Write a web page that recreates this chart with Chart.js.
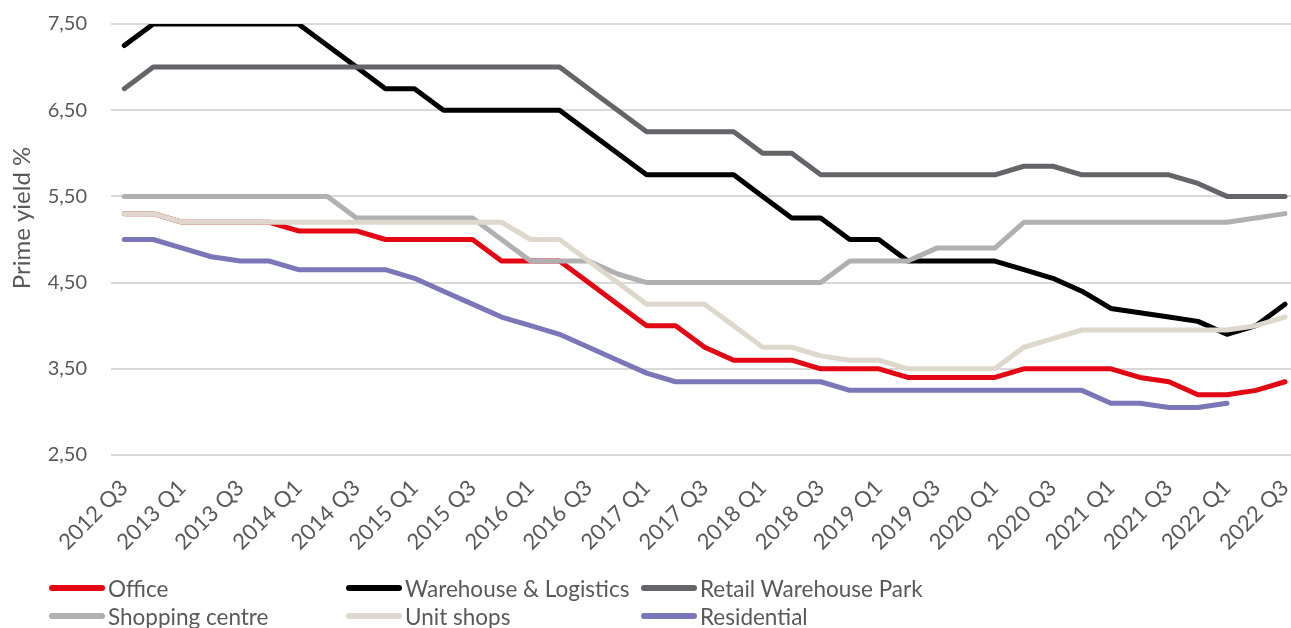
<!DOCTYPE html>
<html lang="en">
<head>
  <meta charset="UTF-8">
  <title>Prime yield</title>
  <style>
    body{margin:0;background:#fff;font-family:Lato,sans-serif;}
    #wrap{position:relative;width:1291px;height:628px;overflow:hidden;}
    #legend{position:absolute;left:0;top:0;width:1291px;height:628px;pointer-events:none;}
    .item{position:absolute;height:28px;display:flex;align-items:center;color:#595959;font-size:22.5px;white-space:nowrap;}
    .sw{width:56px;height:6px;border-radius:3px;margin-right:3px;}
  </style>
  <script src="https://cdn.jsdelivr.net/npm/chart.js"></script>
</head>
<body>
<div id="wrap">
  <canvas id="c" width="1291" height="628"></canvas>
  <div id="legend"></div>
</div>
<script>
// quarters 2012 Q3 .. 2022 Q3
const quarters = ['2012 Q3','2012 Q4','2013 Q1','2013 Q2','2013 Q3','2013 Q4','2014 Q1','2014 Q2','2014 Q3','2014 Q4',
  '2015 Q1','2015 Q2','2015 Q3','2015 Q4','2016 Q1','2016 Q2','2016 Q3','2016 Q4','2017 Q1','2017 Q2',
  '2017 Q3','2017 Q4','2018 Q1','2018 Q2','2018 Q3','2018 Q4','2019 Q1','2019 Q2','2019 Q3','2019 Q4',
  '2020 Q1','2020 Q2','2020 Q3','2020 Q4','2021 Q1','2021 Q2','2021 Q3','2021 Q4','2022 Q1','2022 Q2','2022 Q3'];

const office      = [5.3,5.3,5.2,5.2,5.2,5.2,5.1,5.1,5.1,5.0,5.0,5.0,5.0,4.75,4.75,4.75,4.5,4.25,4.0,4.0,
  3.75,3.6,3.6,3.6,3.5,3.5,3.5,3.4,3.4,3.4,3.4,3.5,3.5,3.5,3.5,3.4,3.35,3.2,3.2,3.25,3.35];
const warehouse   = [7.25,7.5,7.5,7.5,7.5,7.5,7.5,7.25,7.0,6.75,6.75,6.5,6.5,6.5,6.5,6.5,6.25,6.0,5.75,5.75,
  5.75,5.75,5.5,5.25,5.25,5.0,5.0,4.75,4.75,4.75,4.75,4.65,4.55,4.4,4.2,4.15,4.1,4.05,3.9,4.0,4.25];
const retailPark  = [6.75,7.0,7.0,7.0,7.0,7.0,7.0,7.0,7.0,7.0,7.0,7.0,7.0,7.0,7.0,7.0,6.75,6.5,6.25,6.25,
  6.25,6.25,6.0,6.0,5.75,5.75,5.75,5.75,5.75,5.75,5.75,5.85,5.85,5.75,5.75,5.75,5.75,5.65,5.5,5.5,5.5];
const shopping    = [5.5,5.5,5.5,5.5,5.5,5.5,5.5,5.5,5.25,5.25,5.25,5.25,5.25,5.0,4.75,4.75,4.75,4.6,4.5,4.5,
  4.5,4.5,4.5,4.5,4.5,4.75,4.75,4.75,4.9,4.9,4.9,5.2,5.2,5.2,5.2,5.2,5.2,5.2,5.2,5.25,5.3];
const unitShops   = [5.3,5.3,5.2,5.2,5.2,5.2,5.2,5.2,5.2,5.2,5.2,5.2,5.2,5.2,5.0,5.0,4.75,4.5,4.25,4.25,
  4.25,4.0,3.75,3.75,3.65,3.6,3.6,3.5,3.5,3.5,3.5,3.75,3.85,3.95,3.95,3.95,3.95,3.95,3.95,4.0,4.1];
const residential = [5.0,5.0,4.9,4.8,4.75,4.75,4.65,4.65,4.65,4.65,4.55,4.4,4.25,4.1,4.0,3.9,3.75,3.6,3.45,3.35,
  3.35,3.35,3.35,3.35,3.35,3.25,3.25,3.25,3.25,3.25,3.25,3.25,3.25,3.25,3.1,3.1,3.05,3.05,3.1,null,null];

const seriesNames  = ['Office','Warehouse & Logistics','Retail Warehouse Park','Shopping centre','Unit shops','Residential'];
const seriesData   = [office, warehouse, retailPark, shopping, unitShops, residential];
const seriesColors = ['#e30613','#000000','#646469','#b0b0b2','#ddd8cb','#7a76b8'];

const yTicks = [2.5,3.5,4.5,5.5,6.5,7.5];
const textColor = '#595959';
const FONT = 'Lato';

const datasets = seriesData.map((arr, k) => ({
  label: seriesNames[k],
  data: arr.map((v, i) => ({x: i, y: v})),
  borderColor: seriesColors[k],
  backgroundColor: seriesColors[k],
  borderWidth: 5,
  borderCapStyle: 'round',
  borderJoinStyle: 'round',
  pointRadius: 0,
  tension: 0,
  spanGaps: false,
  order: seriesData.length - k   // later series drawn on top, like the original
}));

// y axis title
const yTitle = {
  id: 'yTitle',
  afterDraw(chart) {
    const ctx = chart.ctx;
    ctx.save();
    ctx.translate(22, 218);
    ctx.rotate(-Math.PI / 2);
    ctx.font = '24px ' + FONT;
    ctx.fillStyle = textColor;
    ctx.textAlign = 'center';
    ctx.textBaseline = 'middle';
    ctx.fillText('Prime yield %', 0, 0);
    ctx.restore();
  }
};

new Chart(document.getElementById('c'), {
  type: 'line',
  data: { datasets },
  options: {
    responsive: false,
    animation: false,
    layout: { padding: { top: 24, left: 0, right: 0, bottom: 0 } },
    plugins: { legend: { display: false }, tooltip: { enabled: false } },
    scales: {
      x: {
        type: 'linear',
        min: -0.458,
        max: 40.207,
        afterBuildTicks: s => { s.ticks = quarters.map((q, i) => i).filter(i => i % 2 === 0).map(v => ({value: v})); },
        afterFit: s => { s.height = 173; s.paddingLeft = 0; s.paddingRight = 0; },
        grid: { display: false, drawTicks: false },
        border: { display: false },
        ticks: {
          autoSkip: false,
          minRotation: 45,
          maxRotation: 45,
          padding: 20,
          color: textColor,
          font: { family: FONT, size: 22 },
          callback: v => quarters[v]
        }
      },
      y: {
        min: 2.5,
        max: 7.5,
        afterBuildTicks: s => { s.ticks = yTicks.map(v => ({value: v})); },
        afterFit: s => { s.width = 111; s.paddingTop = 0; s.paddingBottom = 0; },
        grid: { color: '#d9d9d9', lineWidth: 2, drawTicks: false },
        border: { display: false },
        ticks: {
          padding: 24,
          color: textColor,
          font: { family: FONT, size: 20 },
          callback: v => v.toFixed(2).replace('.', ',')
        }
      }
    }
  },
  plugins: [yTitle]
});

// legend, three columns by two rows
const legend = document.getElementById('legend');
const colX = [49, 346, 641];
const rowY = [574, 602];
seriesNames.forEach((name, k) => {
  const el = document.createElement('div');
  el.className = 'item';
  el.style.left = colX[k % 3] + 'px';
  el.style.top = rowY[Math.floor(k / 3)] + 'px';
  el.innerHTML = '<span class="sw" style="background:' + seriesColors[k] + '"></span><span>' + name + '</span>';
  legend.appendChild(el);
});
</script>
</body>
</html>
